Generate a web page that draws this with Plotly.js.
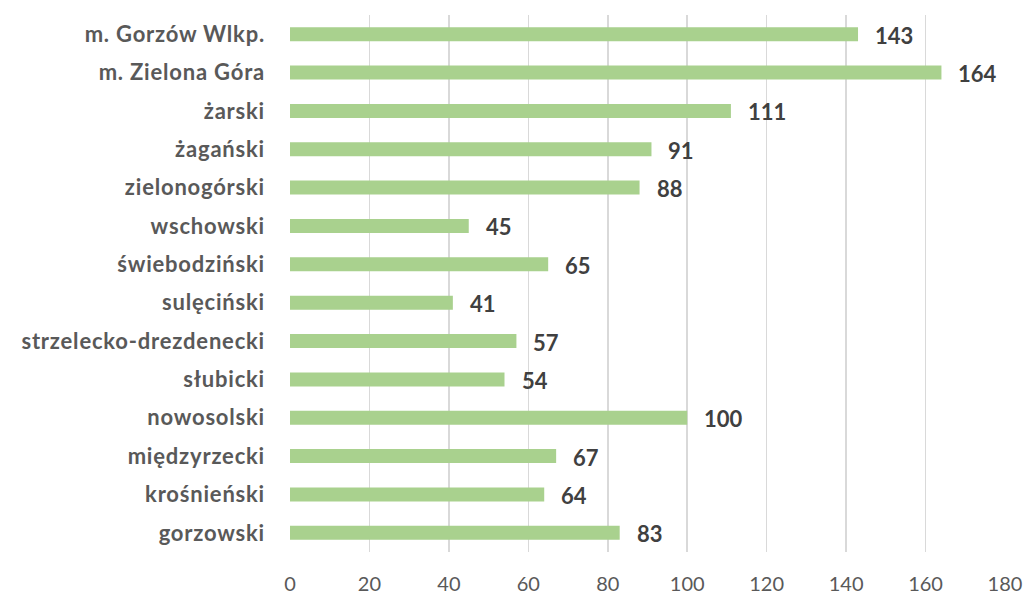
<!DOCTYPE html>
<html>
<head>
<meta charset="utf-8">
<script src="https://cdn.plot.ly/plotly-3.0.1.min.js"></script>
<style>
html,body{margin:0;padding:0;background:#fff;}
#chart{width:1027px;height:596px;}
#chart .ytick text{letter-spacing:0.8px;}
</style>
</head>
<body>
<div id="chart"></div>
<script>
// Data (top to bottom as shown)
const categories = ["m. Gorzów Wlkp.", "m. Zielona Góra", "żarski", "żagański", "zielonogórski", "wschowski", "świebodziński", "sulęciński", "strzelecko-drezdenecki", "słubicki", "nowosolski", "międzyrzecki", "krośnieński", "gorzowski"];
const values = [143, 164, 111, 91, 88, 45, 65, 41, 57, 54, 100, 67, 64, 83];
const tickValues = [0, 20, 40, 60, 80, 100, 120, 140, 160, 180];

const FONT = "Lato, 'Open Sans', sans-serif";

const trace = {
  type: "bar",
  orientation: "h",
  y: categories,
  x: values,
  marker: {color: "#a9d18e", line: {width: 0}},
  hoverinfo: "x+y"
};

const annotations = categories.map((c, i) => ({
  x: values[i], y: c, xref: "x", yref: "y",
  text: String(values[i]), showarrow: false,
  xanchor: "left", xshift: 15, yshift: -1,
  font: {family: FONT, size: 22, color: "#404040", weight: "bold"}
}));

const layout = {
  width: 1027, height: 596,
  margin: {l: 290, r: 22, t: 15, b: 44},
  paper_bgcolor: "#ffffff", plot_bgcolor: "#ffffff",
  showlegend: false,
  bargap: 0.635,
  font: {family: FONT, color: "#595959"},
  xaxis: {
    range: [0, 180],
    tickvals: tickValues,
    ticktext: tickValues.map(String),
    showgrid: true, gridcolor: "#d9d9d9", gridwidth: 1.5,
    zeroline: false, showline: false,
    ticks: "", ticklabelstandoff: 18,
    tickfont: {size: 20, color: "#595959", family: FONT},
    fixedrange: true
  },
  yaxis: {
    categoryorder: "array",
    categoryarray: categories.slice().reverse(),
    autorange: false, range: [-0.5, categories.length - 0.5],
    showgrid: false, zeroline: false, showline: false,
    ticks: "", ticklabelstandoff: 24,
    tickfont: {size: 22, color: "#595959", family: FONT, weight: "bold"},
    fixedrange: true
  },
  annotations: annotations
};

Plotly.newPlot("chart", [trace], layout, {displayModeBar: false, staticPlot: true});
</script>
</body>
</html>
